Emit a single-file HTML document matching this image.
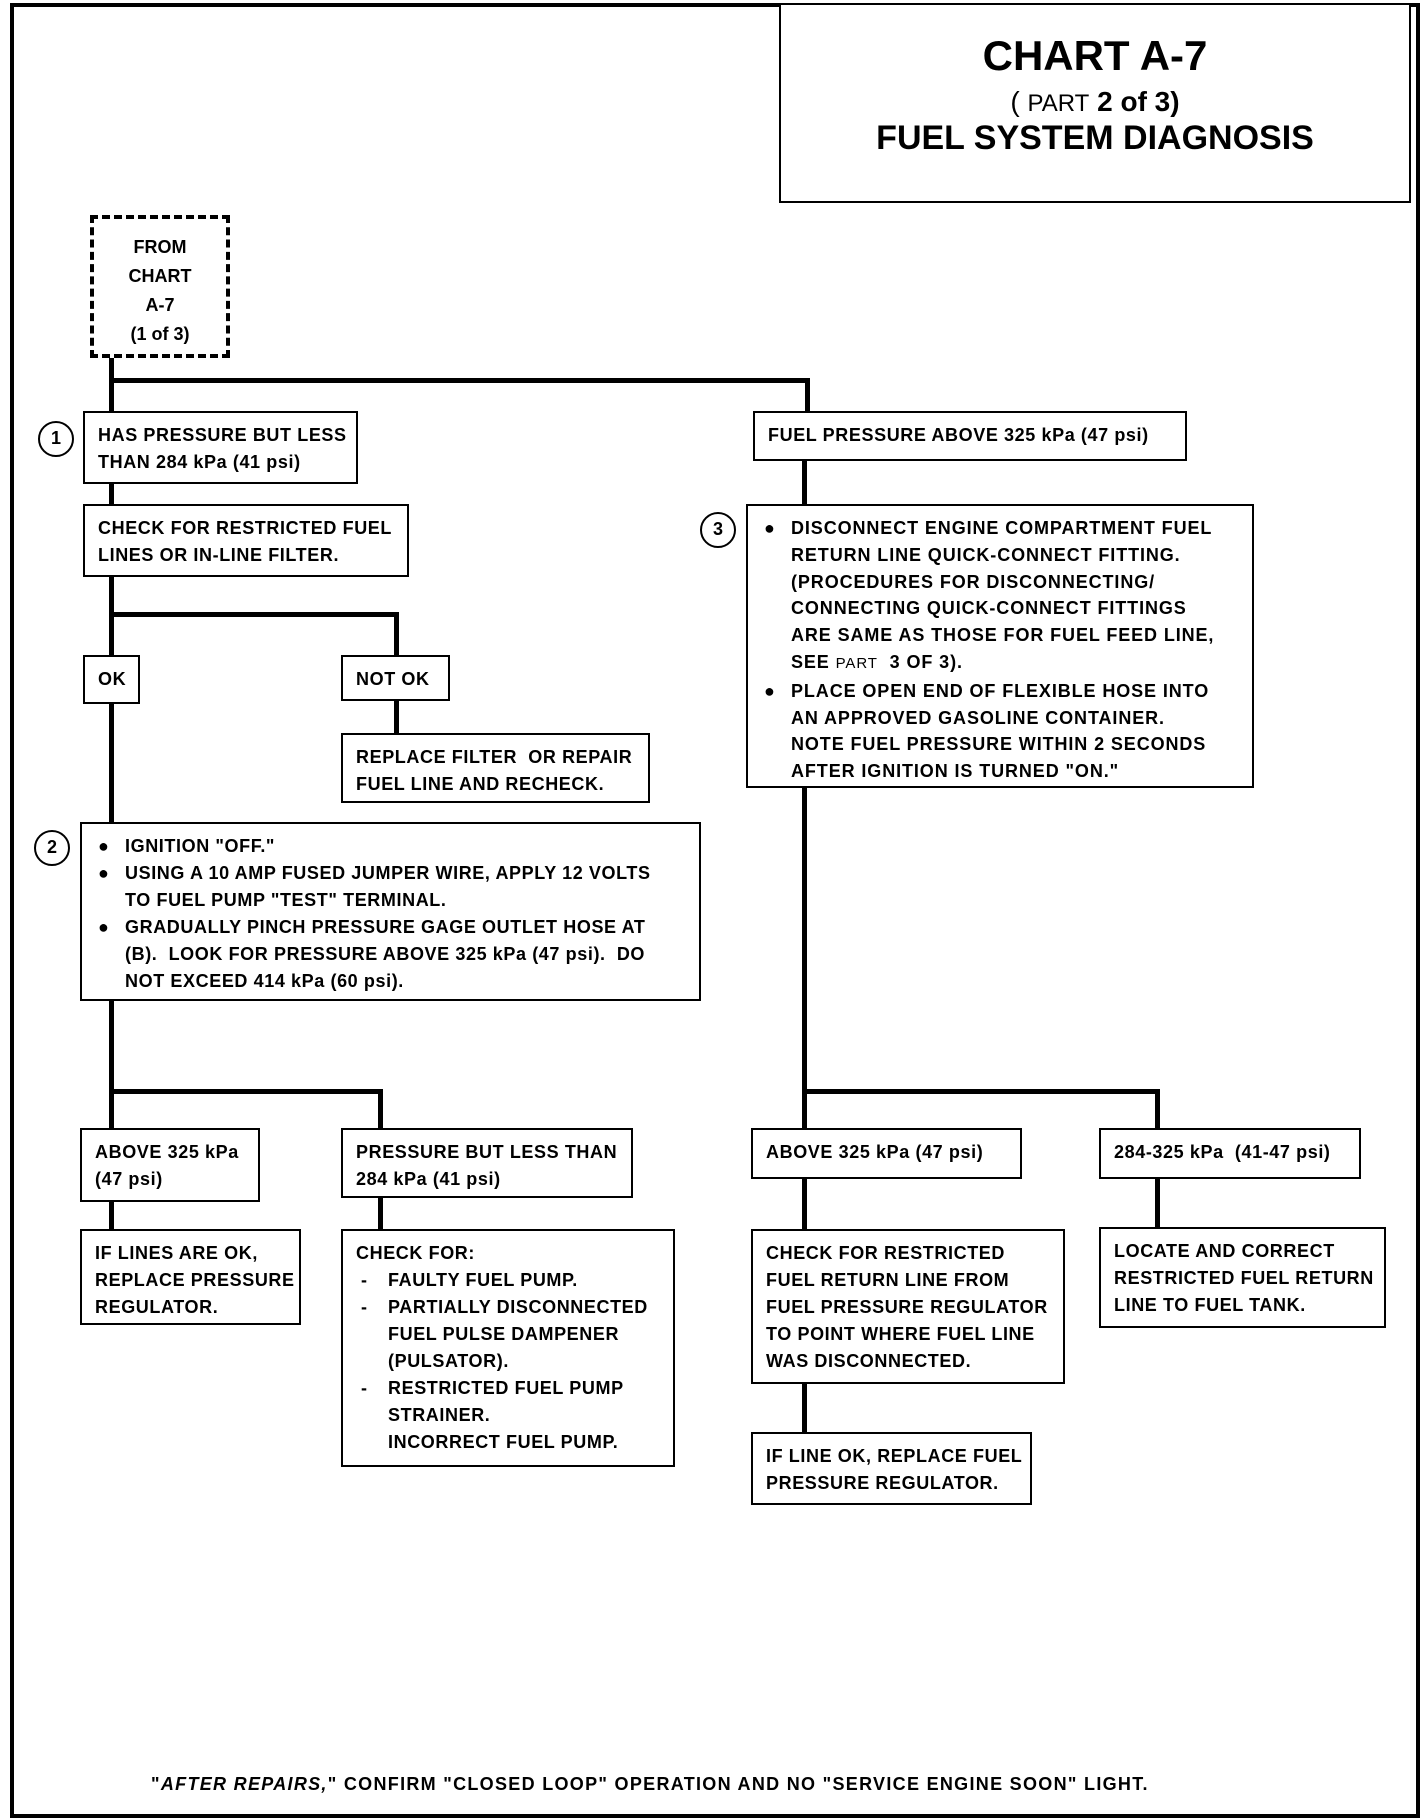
<!DOCTYPE html>
<html><head><meta charset="utf-8"><style>
body{margin:0;background:#fff;}
#c{position:relative;width:1424px;height:1820px;overflow:hidden;background:#fff;font-family:"Liberation Sans",sans-serif;font-weight:bold;color:#000;}
.b{position:absolute;border:2.5px solid #000;box-sizing:border-box;font-size:18px;line-height:27px;padding:9px 0 0 13px;white-space:nowrap;background:#fff;letter-spacing:0.6px;}
.l{position:absolute;background:#000;}
.ci{position:absolute;width:36px;height:36px;border:2.5px solid #000;border-radius:50%;box-sizing:border-box;text-align:center;line-height:31px;font-size:18px;}
.bl{position:relative;}
.bl span{position:absolute;left:-27px;}
.sm{font-weight:normal;font-size:15px;}
</style></head><body><div id="c">
<div class="l" style="left:10px;top:3px;width:4px;height:1815px"></div>
<div class="l" style="left:10px;top:3px;width:1410px;height:4px"></div>
<div class="l" style="left:1416px;top:3px;width:4px;height:1815px"></div>
<div class="l" style="left:10px;top:1814px;width:1410px;height:4px"></div>
<div class="b" style="left:779px;top:3px;width:632px;height:200px;padding:0;text-align:center;white-space:normal;letter-spacing:0">
<div style="font-size:42px;line-height:42px;margin-top:30px">CHART A-7</div>
<div style="font-size:28px;line-height:30px;margin-top:10px"><span style="font-weight:normal">( </span><span style="font-weight:normal;font-size:24px">PART</span> 2 of 3)</div>
<div style="font-size:34px;line-height:38px">FUEL SYSTEM DIAGNOSIS</div>
</div>
<div style="position:absolute;left:90px;top:215px;width:140px;height:143px;border:4px dashed #000;box-sizing:border-box;text-align:center;font-size:18px;line-height:29px;padding-top:14px">FROM<br>CHART<br>A-7<br>(1 of 3)</div>
<div class="l" style="left:109px;top:358px;width:5px;height:470px"></div>
<div class="l" style="left:109px;top:378px;width:701px;height:5px"></div>
<div class="l" style="left:805px;top:378px;width:5px;height:35px"></div>
<div class="l" style="left:109px;top:612px;width:289px;height:5px"></div>
<div class="l" style="left:394px;top:612px;width:5px;height:45px"></div>
<div class="l" style="left:394px;top:700px;width:5px;height:35px"></div>
<div class="l" style="left:109px;top:1000px;width:5px;height:230px"></div>
<div class="l" style="left:109px;top:1089px;width:273px;height:5px"></div>
<div class="l" style="left:378px;top:1089px;width:5px;height:41px"></div>
<div class="l" style="left:378px;top:1196px;width:5px;height:35px"></div>
<div class="l" style="left:802px;top:460px;width:5px;height:45px"></div>
<div class="l" style="left:802px;top:787px;width:5px;height:343px"></div>
<div class="l" style="left:802px;top:1089px;width:357px;height:5px"></div>
<div class="l" style="left:1155px;top:1089px;width:5px;height:41px"></div>
<div class="l" style="left:802px;top:1177px;width:5px;height:54px"></div>
<div class="l" style="left:1155px;top:1177px;width:5px;height:52px"></div>
<div class="l" style="left:802px;top:1383px;width:5px;height:51px"></div>
<div class="ci" style="left:38px;top:421px">1</div>
<div class="ci" style="left:34px;top:830px">2</div>
<div class="ci" style="left:700px;top:512px">3</div>
<div class="b" style="left:83px;top:411px;width:275px;height:73px">HAS PRESSURE BUT LESS<br>THAN 284 kPa (41 psi)</div>
<div class="b" style="left:83px;top:504px;width:326px;height:73px">CHECK FOR RESTRICTED FUEL<br>LINES OR IN-LINE FILTER.</div>
<div class="b" style="left:83px;top:655px;width:57px;height:49px">OK</div>
<div class="b" style="left:341px;top:655px;width:109px;height:46px">NOT OK</div>
<div class="b" style="left:341px;top:733px;width:309px;height:70px">REPLACE FILTER&nbsp; OR REPAIR<br>FUEL LINE AND RECHECK.</div>
<div class="b" style="left:80px;top:822px;width:621px;height:179px;padding-left:43px">
<div class="bl"><span>●</span>IGNITION "OFF."</div>
<div class="bl"><span>●</span>USING A 10 AMP FUSED JUMPER WIRE, APPLY 12 VOLTS</div>
<div>TO FUEL PUMP "TEST" TERMINAL.</div>
<div class="bl"><span>●</span>GRADUALLY PINCH PRESSURE GAGE OUTLET HOSE AT</div>
<div>(B).&nbsp; LOOK FOR PRESSURE ABOVE 325 kPa (47 psi).&nbsp; DO</div>
<div>NOT EXCEED 414 kPa (60 psi).</div>
</div>
<div class="b" style="left:80px;top:1128px;width:180px;height:74px">ABOVE 325 kPa<br>(47 psi)</div>
<div class="b" style="left:341px;top:1128px;width:292px;height:70px">PRESSURE BUT LESS THAN<br>284 kPa (41 psi)</div>
<div class="b" style="left:80px;top:1229px;width:221px;height:96px">IF LINES ARE OK,<br>REPLACE PRESSURE<br>REGULATOR.</div>
<div class="b" style="left:341px;top:1229px;width:334px;height:238px;padding-left:45px">
<div style="margin-left:-32px">CHECK FOR:</div>
<div class="bl"><span>-</span>FAULTY FUEL PUMP.</div>
<div class="bl"><span>-</span>PARTIALLY DISCONNECTED</div>
<div>FUEL PULSE DAMPENER</div>
<div>(PULSATOR).</div>
<div class="bl"><span>-</span>RESTRICTED FUEL PUMP</div>
<div>STRAINER.</div>
<div>INCORRECT FUEL PUMP.</div>
</div>
<div class="b" style="left:753px;top:411px;width:434px;height:50px">FUEL PRESSURE ABOVE 325 kPa (47 psi)</div>
<div class="b" style="left:746px;top:504px;width:508px;height:284px;padding-left:43px;line-height:26.8px;letter-spacing:0.9px">
<div class="bl"><span>●</span>DISCONNECT ENGINE COMPARTMENT FUEL</div>
<div>RETURN LINE QUICK-CONNECT FITTING.</div>
<div>(PROCEDURES FOR DISCONNECTING/</div>
<div>CONNECTING QUICK-CONNECT FITTINGS</div>
<div>ARE SAME AS THOSE FOR FUEL FEED LINE,</div>
<div>SEE <span class="sm">PART</span>&nbsp; 3 OF 3).</div>
<div class="bl"><span>●</span>PLACE OPEN END OF FLEXIBLE HOSE INTO</div>
<div>AN APPROVED GASOLINE CONTAINER.</div>
<div>NOTE FUEL PRESSURE WITHIN 2 SECONDS</div>
<div>AFTER IGNITION IS TURNED "ON."</div>
</div>
<div class="b" style="left:751px;top:1128px;width:271px;height:51px">ABOVE 325 kPa (47 psi)</div>
<div class="b" style="left:1099px;top:1128px;width:262px;height:51px">284-325 kPa&nbsp; (41-47 psi)</div>
<div class="b" style="left:751px;top:1229px;width:314px;height:155px">CHECK FOR RESTRICTED<br>FUEL RETURN LINE FROM<br>FUEL PRESSURE REGULATOR<br>TO POINT WHERE FUEL LINE<br>WAS DISCONNECTED.</div>
<div class="b" style="left:751px;top:1432px;width:281px;height:73px">IF LINE OK, REPLACE FUEL<br>PRESSURE REGULATOR.</div>
<div class="b" style="left:1099px;top:1227px;width:287px;height:101px">LOCATE AND CORRECT<br>RESTRICTED FUEL RETURN<br>LINE TO FUEL TANK.</div>
<div style="position:absolute;left:151px;top:1774px;font-size:18px;white-space:nowrap;letter-spacing:1.3px">"<i>AFTER REPAIRS,</i>" CONFIRM "CLOSED LOOP" OPERATION AND NO "SERVICE ENGINE SOON" LIGHT.</div>
</div></body></html>
